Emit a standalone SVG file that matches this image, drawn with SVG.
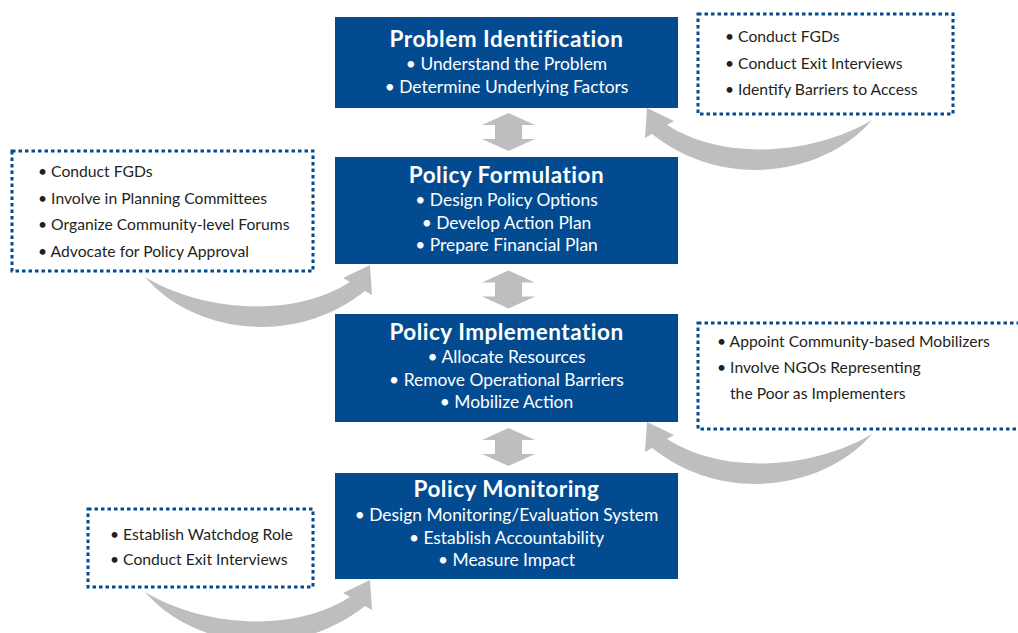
<svg xmlns="http://www.w3.org/2000/svg" width="1018" height="633" viewBox="0 0 1018 633">
  <style>
    .stage { fill: #034b91; }
    .title { font-family: Lato, "Liberation Sans", sans-serif; font-weight: bold; font-size: 22.5px; letter-spacing: 0.5px; fill: #ffffff; text-anchor: middle; }
    .item { font-family: Lato, "Liberation Sans", sans-serif; font-size: 17.4px; fill: #ffffff; text-anchor: middle; }
    .note { fill: #ffffff; stroke: #034b91; stroke-width: 3; stroke-dasharray: 3.5 3; }
    .noteText { font-family: Lato, "Liberation Sans", sans-serif; font-size: 15.7px; fill: #231f20; }
    .flow { fill: #bcbec0; }
  </style>
  <defs>
    <!-- tapered curved arrow, pointing up-right -->
    <path id="curve" d="M145,277 C190,330 290,350 365,291 L372,295 L370,265 L343,278 L350,282 C290,320 200,310 145,277 Z"/>
    <!-- two-headed vertical arrow, 38px tall -->
    <path id="dbl" d="M508.5,0 L535,12 L522,12 L522,26 L535,26 L508.5,38 L482,26 L495,26 L495,12 L482,12 Z"/>
  </defs>
  <rect width="1018" height="633" fill="#ffffff"/>

  <g id="connectors" class="flow">
    <use href="#dbl" transform="translate(0,113)"/>
    <use href="#dbl" transform="translate(0,270.5)"/>
    <use href="#dbl" transform="translate(0,428)"/>
    <use href="#curve" transform="matrix(-1 0 0 1 1017 -157)"/>
    <use href="#curve"/>
    <use href="#curve" transform="matrix(-1 0 0 1 1017 157)"/>
    <use href="#curve" transform="translate(0,315)"/>
  </g>

  <g id="problem-identification">
    <rect class="stage" x="335" y="17" width="343" height="91"/>
    <text class="title" x="506.5" y="47">Problem Identification</text>
    <text class="item" x="506.5" y="70">• Understand the Problem</text>
    <text class="item" x="506.5" y="93">• Determine Underlying Factors</text>
  </g>

  <g id="policy-formulation">
    <rect class="stage" x="335" y="157" width="343" height="107"/>
    <text class="title" x="506.5" y="183">Policy Formulation</text>
    <text class="item" x="506.5" y="206">• Design Policy Options</text>
    <text class="item" x="506.5" y="228.5">• Develop Action Plan</text>
    <text class="item" x="506.5" y="251">• Prepare Financial Plan</text>
  </g>

  <g id="policy-implementation">
    <rect class="stage" x="335" y="314" width="343" height="108"/>
    <text class="title" x="506.5" y="340">Policy Implementation</text>
    <text class="item" x="506.5" y="363">• Allocate Resources</text>
    <text class="item" x="506.5" y="385.5">• Remove Operational Barriers</text>
    <text class="item" x="506.5" y="408">• Mobilize Action</text>
  </g>

  <g id="policy-monitoring">
    <rect class="stage" x="335" y="473" width="343" height="106"/>
    <text class="title" x="506.5" y="497">Policy Monitoring</text>
    <text class="item" x="506.5" y="521">• Design Monitoring/Evaluation System</text>
    <text class="item" x="506.5" y="543.5">• Establish Accountability</text>
    <text class="item" x="506.5" y="566">• Measure Impact</text>
  </g>

  <g id="note-identification">
    <rect class="note" x="698" y="14" width="255" height="100"/>
    <text class="noteText" x="725" y="42">• Conduct FGDs</text>
    <text class="noteText" x="725" y="68.5">• Conduct Exit Interviews</text>
    <text class="noteText" x="725" y="95">• Identify Barriers to Access</text>
  </g>

  <g id="note-formulation">
    <rect class="note" x="12" y="151" width="301" height="120"/>
    <text class="noteText" x="38" y="177">• Conduct FGDs</text>
    <text class="noteText" x="38" y="203.5">• Involve in Planning Committees</text>
    <text class="noteText" x="38" y="230">• Organize Community-level Forums</text>
    <text class="noteText" x="38" y="256.5">• Advocate for Policy Approval</text>
  </g>

  <g id="note-implementation">
    <rect class="note" x="698" y="323" width="340" height="106"/>
    <text class="noteText" x="717" y="347">• Appoint Community-based Mobilizers</text>
    <text class="noteText" x="717" y="373">• Involve NGOs Representing</text>
    <text class="noteText" x="730" y="399">the Poor as Implementers</text>
  </g>

  <g id="note-monitoring">
    <rect class="note" x="88" y="509" width="225" height="78"/>
    <text class="noteText" x="110" y="540">• Establish Watchdog Role</text>
    <text class="noteText" x="110" y="565">• Conduct Exit Interviews</text>
  </g>
</svg>
